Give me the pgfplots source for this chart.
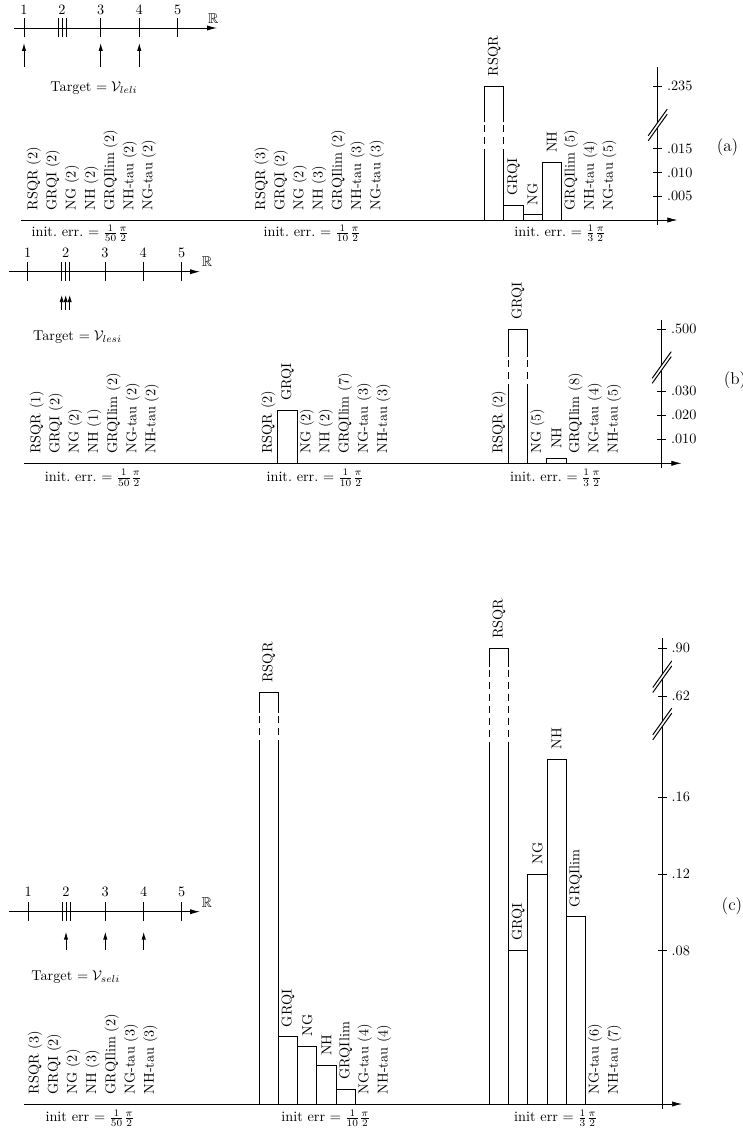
\documentclass[border=0pt]{standalone}
\usepackage{amssymb}
\usepackage{pgfplots}
\pgfplotsset{compat=1.18}
\usetikzlibrary{arrows.meta}

\newcommand\dashseg[3]{%
  \draw[white,line width=2pt] (axis cs:#1,#2) -- (axis cs:#1,#3);
  \draw[black,line width=0.6pt,dash pattern=on 4.9pt off 3.5pt,dash phase=6.3pt] (axis cs:#1,#3) -- (axis cs:#1,#2);}

\newcommand\ybreak[2]{%
  \fill[white] (#1-9.5,#2-15.8) -- (#1+9.5,#2+10.8) -- (#1+9.5,#2+15.8) -- (#1-9.5,#2-10.8) -- cycle;
  \draw[line width=0.7pt] (#1-9.5,#2-15.8) -- (#1+9.5,#2+10.8);
  \draw[line width=0.7pt] (#1-9.5,#2-10.8) -- (#1+9.5,#2+15.8);}

% broken-axis mapping of the data (values above the break are shifted down)
\pgfplotsset{
  brk1/.style={y filter/.code={\let\yv\pgfmathresult\pgfmathparse{\yv>0.1 ? \yv-#1 : \yv}}},
  brk2/.style 2 args={y filter/.code={\let\yv\pgfmathresult\pgfmathparse{\yv>0.75 ? \yv-#1 : (\yv>0.3 ? \yv-#2 : \yv)}}},
  panel/.style={
    anchor=south west, x=0.7pt,
    scaled y ticks=false,
    axis x line=middle, axis y line=right,
    xtick=\empty, tick align=center, major tick length=6pt,
    tick style={line width=0.6pt, black},
    axis line style={line width=0.45pt},
    y axis line style={-, line width=0.6pt},
    x axis line style={-{Latex[length=7pt,width=3.6pt]}, shorten >=-13.8pt},
    clip=false,
    ybar, bar width=19.2, bar shift=0pt,
    nodes near coords, point meta=explicit symbolic,
    every node near coord/.append style={rotate=90, anchor=west, inner xsep=6.5pt, inner ysep=0pt, font=\normalsize, black},
    every axis plot post/.append style={draw=black, fill=none, line width=0.6pt, mark=none},
  }
}

\begin{document}
\begin{tikzpicture}[x=0.7pt,y=0.7pt]
\useasboundingbox (0,0) rectangle (742,1132);

% ---------------- panel (a) ----------------
\begin{axis}[panel, at={(14.7pt,634.9pt)},
  xmin=21, xmax=657.7, y=3318pt, ymin=-0.00105, ymax=0.03228,
  ytick={0.005,0.010,0.015,0.02827}, yticklabels={.005,.010,.015,.235}]
\addplot[brk1=0.20673] coordinates {
 (33.7,0) [RSQR (2)] (52.9,0) [GRQI (2)] (72.1,0) [NG (2)] (91.3,0) [NH (2)]
 (110.5,0) [GRQIlim (2)] (129.7,0) [NH-tau (2)] (148.9,0) [NG-tau (2)]
 (261.5,0) [RSQR (3)] (280.7,0) [GRQI (2)] (299.9,0) [NG (2)] (319.1,0) [NH (3)]
 (338.3,0) [GRQIlim (2)] (357.5,0) [NH-tau (3)] (376.7,0) [NG-tau (3)]
 (494.2,0.235) [RSQR] (513.4,0.0031) [GRQI] (532.6,0.0011) [NG] (551.8,0.0121) [NH]
 (571.0,0) [GRQIlim (5)] (590.2,0) [NH-tau (4)] (609.4,0) [NG-tau (5)]
};
\dashseg{484.6}{0.0148}{0.0207}
\dashseg{503.8}{0.0148}{0.0207}
\end{axis}

% ---------------- panel (b) ----------------
\begin{axis}[panel, at={(16.8pt,464.59pt)},
  xmin=24, xmax=661.7, y=1680pt, ymin=-0.00208, ymax=0.0597,
  ytick={0.010,0.020,0.030,0.05583}, yticklabels={.010,.020,.030,.500}]
\addplot[brk1=0.44417] coordinates {
 (36.7,0) [RSQR (1)] (55.9,0) [GRQI (2)] (75.1,0) [NG (2)] (94.3,0) [NH (1)]
 (113.5,0) [GRQIlim (2)] (132.7,0) [NG-tau (2)] (151.9,0) [NH-tau (2)]
 (268.3,0) [RSQR (2)] (287.5,0.0221) [GRQI] (306.7,0) [NG (2)] (325.9,0) [NH (2)]
 (345.1,0) [GRQIlim (7)] (364.3,0) [NG-tau (3)] (383.5,0) [NH-tau (3)]
 (498.8,0) [RSQR (2)] (518.0,0.500) [GRQI] (537.2,0) [NG (5)] (556.4,0.002) [NH]
 (575.6,0) [GRQIlim (8)] (594.8,0) [NG-tau (4)] (614.0,0) [NH-tau (5)]
};
\dashseg{508.4}{0.0318}{0.0443}
\dashseg{527.6}{0.0318}{0.0443}
\end{axis}

% ---------------- panel (c) ----------------
\begin{axis}[panel, at={(16.8pt,16.1pt)},
  xmin=24, xmax=662.3, y=1341.9pt, ymin=-0.0026, ymax=0.2429,
  ytick={0.08,0.12,0.16,0.2128,0.2377}, yticklabels={.08,.12,.16,.62,.90}]
\addplot[brk2={0.6623}{0.4072}] coordinates {
 (35.0,0) [RSQR (3)] (54.2,0) [GRQI (2)] (73.4,0) [NG (2)] (92.6,0) [NH (3)]
 (111.8,0) [GRQIlim (2)] (131.0,0) [NG-tau (3)] (150.2,0) [NH-tau (3)]
 (268.8,0.622) [RSQR] (288.0,0.0351) [GRQI] (307.2,0.0303) [NG] (326.4,0.020) [NH]
 (345.6,0.0077) [GRQIlim] (364.8,0) [NG-tau (4)] (384.0,0) [NH-tau (4)]
 (499.0,0.90) [RSQR] (518.2,0.080) [GRQI] (537.4,0.120) [NG] (556.6,0.180) [NH]
 (575.8,0.0977) [GRQIlim] (595.0,0) [NG-tau (6)] (614.2,0) [NH-tau (7)]
};
\dashseg{259.2}{0.1883}{0.204}
\dashseg{278.4}{0.1883}{0.204}
\dashseg{489.4}{0.1883}{0.2281}
\dashseg{508.6}{0.1883}{0.2281}
\end{axis}

% axis breaks
\ybreak{657.7}{1007}
\ybreak{661.7}{764.5}
\ybreak{662.3}{455.3}
\ybreak{662.3}{408}

% panel letters
\node[font=\large] at (727.5,985) {(a)};
\node[font=\large] at (735,752) {(b)};
\node[font=\large] at (732,225.3) {(c)};

% init err labels
\node at (80,898.7) {init.\ err.\ $=\frac{1}{50}\frac{\pi}{2}$};
\node at (312,898.7) {init.\ err.\ $=\frac{1}{10}\frac{\pi}{2}$};
\node at (560,898.7) {init.\ err.\ $=\frac{1}{3}\frac{\pi}{2}$};
\node at (93.3,654) {init.\ err.\ $=\frac{1}{50}\frac{\pi}{2}$};
\node at (315,654) {init.\ err.\ $=\frac{1}{10}\frac{\pi}{2}$};
\node at (555.8,654) {init.\ err.\ $=\frac{1}{3}\frac{\pi}{2}$};
\node at (90,13.7) {init err $=\frac{1}{50}\frac{\pi}{2}$};
\node at (325.8,13.7) {init err $=\frac{1}{10}\frac{\pi}{2}$};
\node at (555.8,13.7) {init err $=\frac{1}{3}\frac{\pi}{2}$};

% number line (a)
\draw[line width=0.6pt,-{Latex[length=7pt,width=3.6pt]}] (14,1104) -- (217,1104);
\foreach \x in {24,58,62,66,100.7,139.3,177.7} \draw[line width=0.6pt] (\x,1094.5) -- (\x,1113.5);
\foreach \x/\l in {24/1,62/2,100.7/3,139.3/4,177.7/5} \node at (\x,1122) {\l};
\node at (213.3,1113.7) {$\mathbb{R}$};
\foreach \x in {24,100.7,139.3} \draw[line width=0.6pt,-{Latex[length=5.5pt,width=3pt]}] (\x,1065) -- (\x,1089);
\node at (94,1043.7) {Target $=\mathcal{V}_{leli}$};

% number line (b)
\draw[line width=0.6pt,-{Latex[length=7pt,width=3.6pt]}] (9,860.3) -- (200,860.3);
\foreach \x in {27.7,61.7,65.7,69.7,105,143.3,181.7} \draw[line width=0.6pt] (\x,850.8) -- (\x,869.8);
\foreach \x/\l in {27.7/1,65.7/2,105/3,143.3/4,181.7/5} \node at (\x,879) {\l};
\node at (207,870.3) {$\mathbb{R}$};
\foreach \x in {61.7,65.7,69.7} \draw[line width=0.6pt,-{Latex[length=5pt,width=3pt]}] (\x,822) -- (\x,837);
\node at (77.5,794.7) {Target $=\mathcal{V}_{lesi}$};

% number line (c)
\draw[line width=0.6pt,-{Latex[length=7pt,width=3.6pt]}] (9,220.3) -- (200,220.3);
\foreach \x in {28.3,62,66,70,105.3,143.7,181.7} \draw[line width=0.6pt] (\x,210.8) -- (\x,229.8);
\foreach \x/\l in {28.3/1,66/2,105.3/3,143.7/4,181.7/5} \node at (\x,240.3) {\l};
\node at (206.7,229.3) {$\mathbb{R}$};
\foreach \x in {66,105.3,143.7} \draw[line width=0.6pt,-{Latex[length=5.5pt,width=3pt]}] (\x,182) -- (\x,200.3);
\node at (75.8,155.3) {Target $=\mathcal{V}_{seli}$};
\end{tikzpicture}
\end{document}
